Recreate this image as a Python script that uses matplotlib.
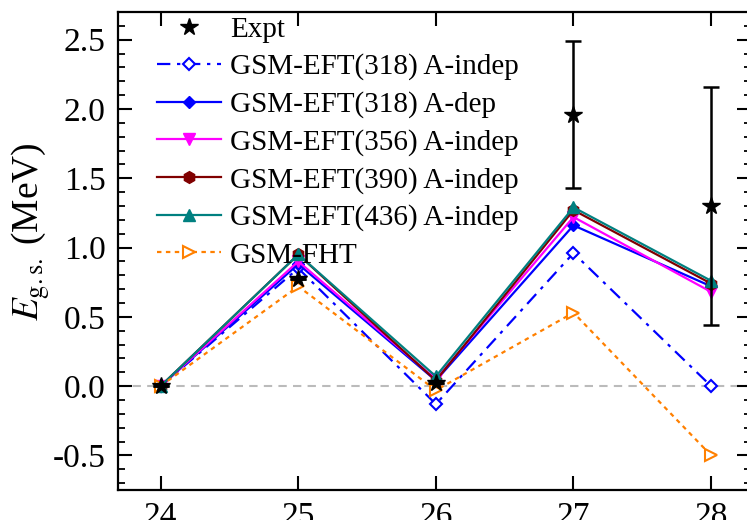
import matplotlib
matplotlib.use("Agg")
import matplotlib.pyplot as plt
from matplotlib.lines import Line2D
from matplotlib.ticker import MultipleLocator, FormatStrFormatter

plt.rcParams['font.family'] = ['Liberation Serif', 'DejaVu Serif']
plt.rcParams['mathtext.fontset'] = 'stix'

# mass number A
mass = [24, 25, 26, 27, 28]

# experimental ground-state energies with uncertainties
expt_A = [24, 25, 26, 27, 28]
expt_E = [0.0, 0.77, 0.02, 1.96, 1.30]
expt_err_lo = [0.0, 0.0, 0.0, 0.53, 0.86]
expt_err_hi = [0.0, 0.0, 0.0, 0.53, 0.86]

# calculated ground-state energies (MeV)
eft318_indep = [0.0, 0.85, -0.13, 0.96, 0.0]
eft318_dep = [0.0, 0.88, 0.04, 1.16, 0.72]
eft356_indep = [0.0, 0.90, 0.05, 1.22, 0.68]
eft390_indep = [0.0, 0.95, 0.04, 1.27, 0.74]
eft436_indep = [0.0, 0.95, 0.07, 1.29, 0.76]
fht = [0.0, 0.72, -0.03, 0.53, -0.50]

fig = plt.figure(figsize=(7.47, 5.20), dpi=100)
ax = fig.add_axes([118 / 747, 30 / 520, 633 / 747, 478 / 520])

ax.axhline(0.0, color='#bbbbbb', linestyle=(0, (4, 3)), linewidth=1.5, zorder=1)

lw = 1.6
ax.plot(mass, eft318_indep, color='blue', linestyle=(0, (6, 3, 1.5, 3)), linewidth=lw,
        marker='D', markersize=6, markerfacecolor='white', markeredgewidth=1.5,
        label='GSM-EFT(318) A-indep', zorder=3)
ax.plot(mass, eft318_dep, color='blue', linewidth=lw, marker='D', markersize=6.5,
        label='GSM-EFT(318) A-dep', zorder=3)
ax.plot(mass, eft356_indep, color='magenta', linewidth=lw, marker='v', markersize=8.5,
        label='GSM-EFT(356) A-indep', zorder=3)
ax.plot(mass, eft390_indep, color='#800000', linewidth=lw, marker='h', markersize=8.5,
        label='GSM-EFT(390) A-indep', zorder=3)
ax.plot(mass, eft436_indep, color='#008080', linewidth=lw, marker='^', markersize=8.5,
        label='GSM-EFT(436) A-indep', zorder=3)
ax.plot(mass, fht, color='#ff8000', linestyle=(0, (2, 2)), linewidth=lw,
        marker='>', markersize=8.5, markerfacecolor='white', markeredgewidth=1.5,
        label='GSM-FHT', zorder=3)

ax.errorbar(expt_A, expt_E, yerr=[expt_err_lo, expt_err_hi], fmt='*', color='black',
            markersize=13, elinewidth=1.8, capsize=6, capthick=1.8, zorder=5)

# legend: experiment first, shown as a bare star
handles, labels = ax.get_legend_handles_labels()
expt_handle = Line2D([], [], linestyle='none', marker='*', color='black', markersize=13)
ax.legend([expt_handle] + handles, ['Expt'] + labels,
          loc='upper left', bbox_to_anchor=(0.062, 0.991), frameon=False,
          fontsize=21, handlelength=2.2, handletextpad=0.3, labelspacing=0.37,
          borderaxespad=0.0, borderpad=0.0)

ax.set_xlim(23.69, 28.29)
ax.set_ylim(-0.75, 2.70)
ax.set_xticks(mass)
ax.yaxis.set_major_locator(MultipleLocator(0.5))
ax.yaxis.set_minor_locator(MultipleLocator(0.1))
ax.yaxis.set_major_formatter(FormatStrFormatter('%.1f'))

ax.tick_params(axis='both', which='major', direction='in', length=10, width=1.5,
               labelsize=24, top=True, right=True)
ax.tick_params(axis='y', which='minor', direction='in', length=5, width=1.3, right=True)
ax.tick_params(axis='y', which='major', pad=9)
ax.tick_params(axis='x', which='major', pad=8)
for spine in ax.spines.values():
    spine.set_linewidth(1.6)

ax.set_ylabel(r'$E_{\mathrm{g.s.}}$' + '\u2009(MeV)', fontsize=27)
ax.yaxis.set_label_coords(-0.104, 0.54)

fig.savefig('out.png', dpi=100)
